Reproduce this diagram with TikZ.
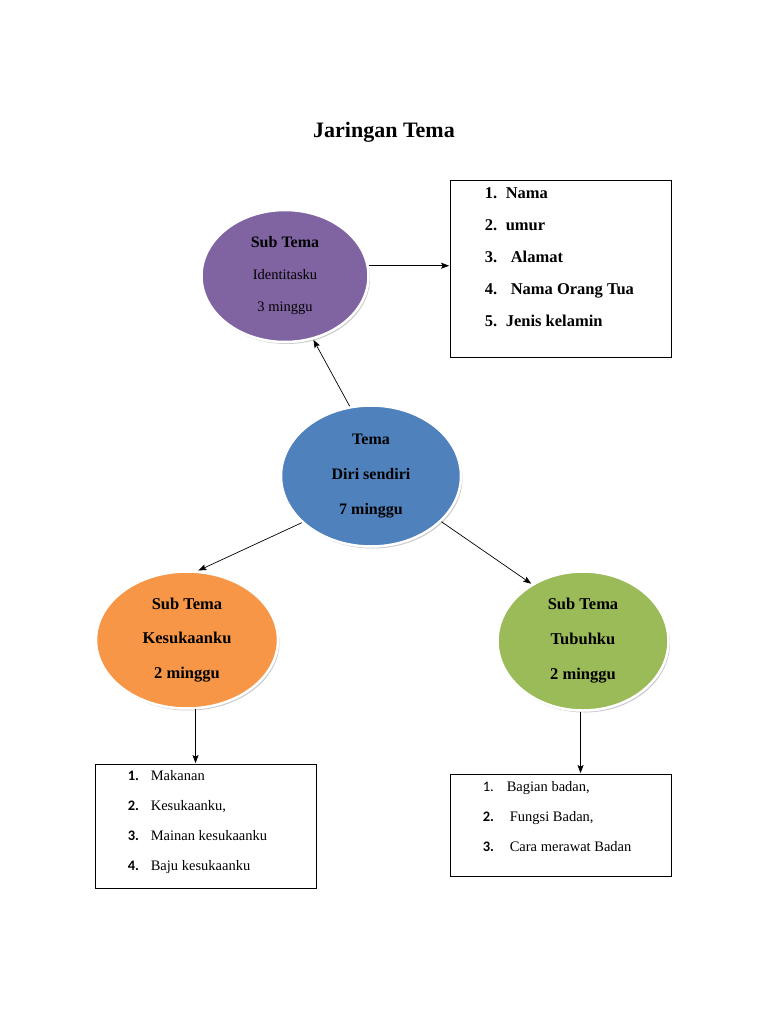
\documentclass[tikz,border=0pt]{standalone}
\usepackage{fontspec}
\setmainfont{Liberation Serif}
\newfontfamily\numfont{Carlito}
\usepackage{tikz}
\usetikzlibrary{arrows,arrows.meta,positioning,shapes,shadows}
\definecolor{subPurple}{HTML}{8064A2}
\definecolor{temaBlue}{HTML}{4F81BD}
\definecolor{subOrange}{HTML}{F79646}
\definecolor{subGreen}{HTML}{9BBB59}

\begin{document}
\begin{tikzpicture}
	[ x=1pt, y=-1pt,
		bubble/.style={ellipse,draw=white,line width=2.5pt,inner sep=0pt,align=center,
			drop shadow={shadow xshift=1.5pt,shadow yshift=-2pt,fill=black!35,opacity=0.6}},
		listbox/.style={rectangle,draw,line width=0.8pt,minimum width=221pt},
		listtext/.style={align=left,inner sep=0pt},
		arrowOut/.style={-{Stealth[length=8pt,width=6pt,inset=1.5pt]},shorten >=0.5pt,line width=0.7pt}]

	\useasboundingbox (0,0) rectangle (768,1024);

	\node (title) at (384,132) {\fontsize{22}{26}\selectfont\bfseries Jaringan Tema};

	% lingkaran tema dan sub tema
	\node[bubble,fill=temaBlue,minimum width=180pt,minimum height=141pt,
		font=\fontsize{16}{35}\selectfont\bfseries] (tema) at (371,476)
		{Tema\\ Diri sendiri\\ 7 minggu};
	\node[bubble,fill=subPurple,minimum width=167pt,minimum height=132pt,
		font=\fontsize{14.5}{32}\selectfont] (subIdentitas) at (285,276)
		{{\fontsize{16}{32}\selectfont\bfseries Sub Tema}\\ Identitasku\\ 3 minggu};
	\node[bubble,fill=subOrange,minimum width=182pt,minimum height=137pt,
		font=\fontsize{16.5}{34.5}\selectfont\bfseries] (subKesukaan) at (187,640)
		{Sub Tema\\ Kesukaanku\\ 2 minggu};
	\node[bubble,fill=subGreen,minimum width=171pt,minimum height=139pt,
		font=\fontsize{16.5}{35}\selectfont\bfseries] (subTubuh) at (583,641)
		{Sub Tema\\ Tubuhku\\ 2 minggu};

	% kotak daftar
	\node[listbox,minimum height=177pt] (boxIdentitas) at (560.5,268.5) {};
	\node[listtext,below right=8pt and 35pt of boxIdentitas.north west,
		font=\fontsize{16.5}{32}\selectfont\bfseries] (listIdentitas)
		{\makebox[21pt][l]{1.}Nama\\
		 \makebox[21pt][l]{2.}umur\\
		 \makebox[26pt][l]{3.}Alamat\\
		 \makebox[26pt][l]{4.}Nama Orang Tua\\
		 \makebox[21pt][l]{5.}Jenis kelamin};

	\node[listbox,minimum height=124pt] (boxKesukaan) at (205.5,826) {};
	\node[listtext,below right=7pt and 33pt of boxKesukaan.north west,
		font=\fontsize{14.5}{30}\selectfont] (listKesukaan)
		{\makebox[23pt][l]{\numfont\bfseries 1.}Makanan\\
		 \makebox[23pt][l]{\numfont\bfseries 2.}Kesukaanku,\\
		 \makebox[23pt][l]{\numfont\bfseries 3.}Mainan kesukaanku\\
		 \makebox[23pt][l]{\numfont\bfseries 4.}Baju kesukaanku};

	\node[listbox,minimum height=102pt] (boxTubuh) at (560.5,825) {};
	\node[listtext,below right=8pt and 33pt of boxTubuh.north west,
		font=\fontsize{14.5}{30}\selectfont] (listTubuh)
		{\makebox[24pt][l]{\numfont 1.}Bagian badan,\\
		 \makebox[27pt][l]{\numfont\bfseries 2.}Fungsi Badan,\\
		 \makebox[27pt][l]{\numfont\bfseries 3.}Cara merawat Badan};

	% panah
	\draw[arrowOut] (subIdentitas.7) -- (subIdentitas.7 -| boxIdentitas.west);
	\draw[arrowOut] (tema.107) -- (subIdentitas.-66);
	\draw[arrowOut] (tema.214) -- (subKesukaan.81);
	\draw[arrowOut] (tema.-33) -- (subTubuh.132);
	\draw[arrowOut] (subKesukaan.-83) -- (subKesukaan.-83 |- boxKesukaan.north);
	\draw[arrowOut] (subTubuh.-92) -- (subTubuh.-92 |- boxTubuh.north);
\end{tikzpicture}
\end{document}
